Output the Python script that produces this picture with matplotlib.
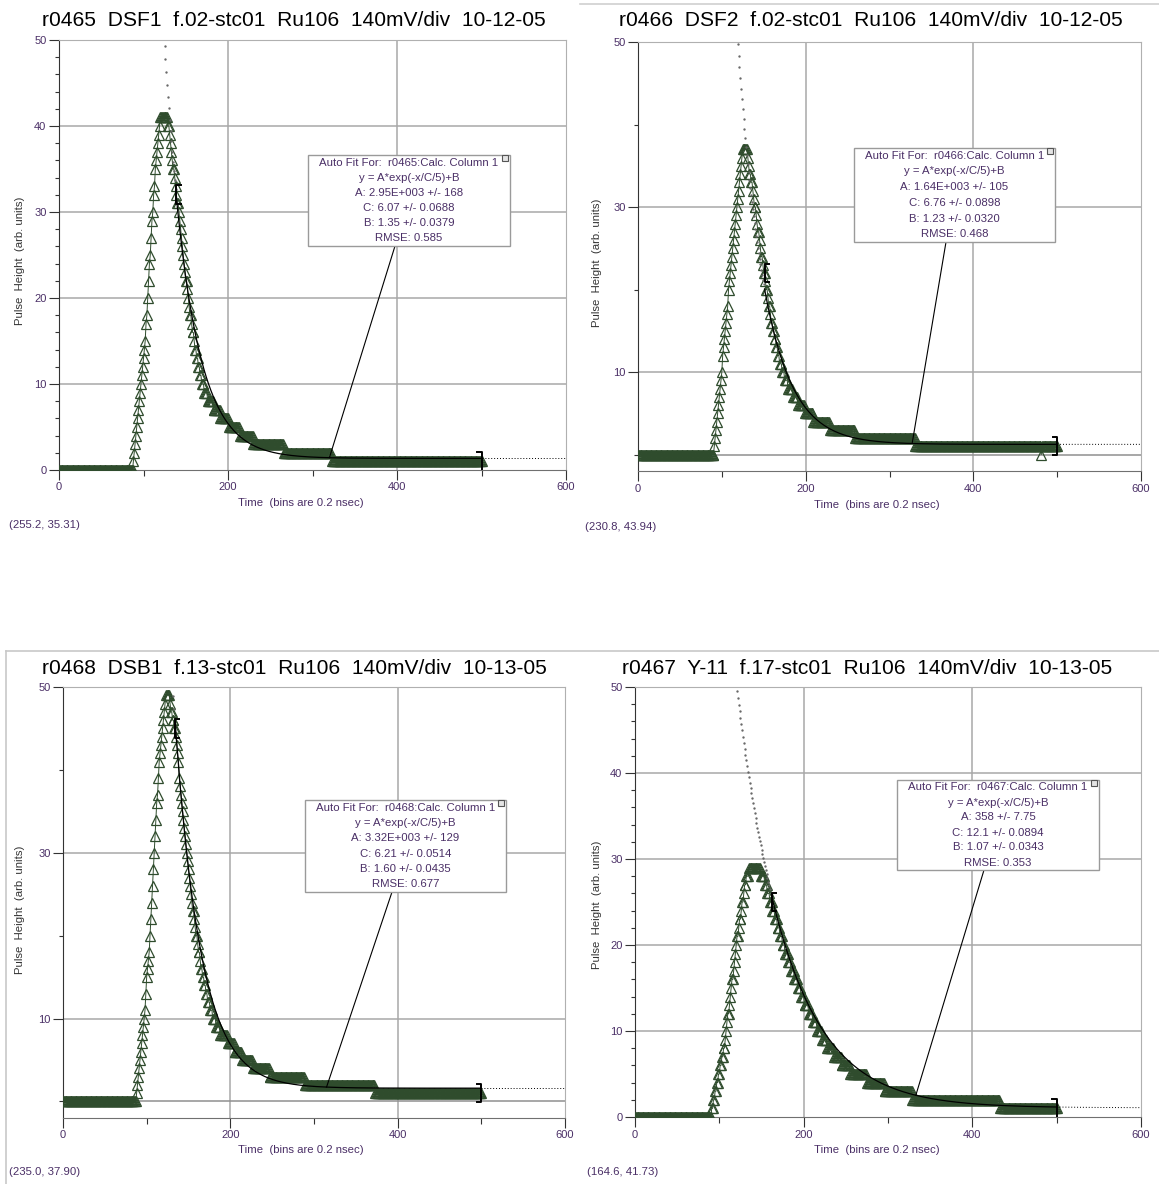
import numpy as np
import matplotlib
matplotlib.use("Agg")
import matplotlib.pyplot as plt
from matplotlib.patches import Rectangle
from matplotlib.lines import Line2D

plt.rcParams['font.family'] = ['Liberation Sans', 'DejaVu Sans']

W, H = 1159, 1184

# ---- data (one value per 0.2 ns bin) ----
titles = ["r0465  DSF1  f.02-stc01  Ru106  140mV/div  10-12-05",
          "r0466  DSF2  f.02-stc01  Ru106  140mV/div  10-12-05",
          "r0468  DSB1  f.13-stc01  Ru106  140mV/div  10-13-05",
          "r0467  Y-11  f.17-stc01  Ru106  140mV/div  10-13-05"]
runs_names = ["r0465", "r0466", "r0468", "r0467"]

base_n = [88, 91, 88, 91]   # bins at 0 before the pulse

rise1 = [1, 2, 3, 4, 5, 6, 7, 8, 9, 10, 11, 12, 13, 14, 15, 17, 18, 20, 22, 24, 25, 27,
         29, 30, 32, 33, 35, 36, 37, 38, 39, 40]
tail1 = [(41, 9), (40, 2), (39, 1), (38, 1), (37, 1), (36, 1), (35, 2), (34, 1), (33, 1),
         (32, 1), (31, 2), (30, 1), (29, 1), (28, 1), (27, 1), (26, 1), (25, 1), (24, 1),
         (23, 1), (22, 2), (21, 1), (20, 1), (19, 1), (18, 2), (17, 1), (16, 2), (15, 1),
         (14, 2), (13, 2), (12, 2), (11, 2), (10, 3), (9, 4), (8, 7), (7, 8), (6, 10),
         (5, 13), (4, 16), (3, 36), (2, 57), (1, 178)]

rise2 = [1, 2, 3, 4, 5, 6, 7, 8, 9, 10, 12, 13, 14, 15, 16, 17, 18, 20, 21, 22, 23, 24,
         25, 26, 27, 28, 29, 30, 31, 32, 33, 34, 35, 36]
tail2 = [(37, 6), (36, 1), (35, 1), (34, 2), (33, 2), (32, 1), (31, 1), (30, 2), (29, 1),
         (28, 1), (27, 2), (26, 1), (25, 1), (24, 2), (23, 1), (22, 2), (21, 1), (20, 2),
         (19, 1), (18, 2), (17, 1), (16, 2), (15, 2), (14, 2), (13, 2), (12, 2), (11, 3),
         (10, 3), (9, 4), (8, 6), (7, 6), (6, 8), (5, 10), (4, 20), (3, 30), (2, 72),
         (1, 150), (0, 1), (1, 19)]

rise3 = [1, 2, 3, 4, 5, 6, 7, 8, 9, 10, 11, 13, 15, 16, 17, 18, 20, 22, 24, 26, 28, 30,
         32, 34, 36, 37, 39, 41, 42, 43, 44, 45, 46, 47, 48]
tail3 = [(49, 5), (48, 1), (47, 2), (46, 2), (45, 2), (44, 1), (43, 1), (42, 1), (41, 1),
         (39, 1), (38, 1), (37, 1), (36, 1), (35, 1), (34, 1), (33, 1), (32, 1), (31, 1),
         (30, 1), (29, 1), (28, 1), (27, 1), (26, 1), (25, 1), (24, 1), (23, 2), (22, 1),
         (21, 1), (20, 2), (19, 1), (18, 2), (17, 1), (16, 2), (15, 2), (14, 2), (13, 2),
         (12, 3), (11, 3), (10, 4), (9, 5), (8, 9), (7, 8), (6, 9), (5, 13), (4, 20),
         (3, 42), (2, 84), (1, 128)]

rise4 = [1, 1, 2, 2, 3, 3, 4, 4, 5, 5, 6, 6, 7, 7, 8, 8, 9, 10, 11, 12, 12, 13, 14, 15,
         16, 16, 17, 18, 19, 20, 21, 21, 22, 23, 23, 24, 25, 25, 26, 27, 27, 28, 28, 28]
tail4 = [(29, 14), (28, 5), (27, 3), (26, 3), (25, 3), (24, 3), (23, 3), (22, 3), (21, 3),
         (20, 3), (19, 4), (18, 3), (17, 4), (16, 4), (15, 4), (14, 4), (13, 5), (12, 5),
         (11, 5), (10, 6), (9, 6), (8, 8), (7, 9), (6, 10), (5, 20), (4, 21), (3, 33),
         (2, 104), (1, 68)]

rises = [rise1, rise2, rise3, rise4]
tails = [tail1, tail2, tail3, tail4]

# auto fit y = A*exp(-x/C/5)+B
fit_A = [2950, 1640, 3320, 358]
fit_C = [6.07, 6.76, 6.21, 12.1]
fit_B = [1.35, 1.23, 1.60, 1.07]
fit_start = [139, 151, 134, 162]
fit_end = 500
fit_lines = [
    ["A: 2.95E+003 +/- 168", "C: 6.07 +/- 0.0688", "B: 1.35 +/- 0.0379", "RMSE: 0.585"],
    ["A: 1.64E+003 +/- 105", "C: 6.76 +/- 0.0898", "B: 1.23 +/- 0.0320", "RMSE: 0.468"],
    ["A: 3.32E+003 +/- 129", "C: 6.21 +/- 0.0514", "B: 1.60 +/- 0.0435", "RMSE: 0.677"],
    ["A: 358 +/- 7.75", "C: 12.1 +/- 0.0894", "B: 1.07 +/- 0.0343", "RMSE: 0.353"],
]
readouts = ["(255.2, 35.31)", "(230.8, 43.94)", "(235.0, 37.90)", "(164.6, 41.73)"]

# ---- layout (pixels) ----
frames = [(59, 40, 566, 470), (638, 42, 1141, 471), (63, 687, 565, 1118), (635, 687, 1141, 1117)]
ylows = [0, -2, -2, 0]
title_pos = [(294, 21), (871, 21), (294, 668), (867, 668)]
ylab_pos = [(20, 261), (597, 263), (20, 910), (597, 905)]
xlab_pos = [(301, 503), (877, 505), (301, 1150), (877, 1150)]
read_pos = [(9, 525), (585, 527), (9, 1172), (587, 1172)]
boxes = [(308, 155, 510, 246), (854, 148, 1055, 242), (305, 800, 506, 892), (897, 780, 1099, 870)]
link_px = [395, 946, 392, 984]
link_x = [320, 327, 315, 333]

green = '#2f4c2d'
purple = '#4a2f66'
gridc = '#a8a8a8'

fig = plt.figure(figsize=(W / 100, H / 100), dpi=100)


def p2d(fr, ylo, px, py):
    l, t, r, b = fr
    return (px - l) / (r - l) * 600, 50 - (py - t) / (b - t) * (50 - ylo)


def ftext(px, py, s, **kw):
    fig.text(px / W, 1 - py / H, s, **kw)


for i in range(4):
    l, t, r, b = frames[i]
    ylo = ylows[i]
    ax = fig.add_axes([l / W, 1 - b / H, (r - l) / W, (b - t) / H])
    ax.set_xlim(0, 600)
    ax.set_ylim(ylo, 50)

    y = np.concatenate([np.zeros(base_n[i]), rises[i],
                        np.repeat([v for v, n in tails[i]], [n for v, n in tails[i]])])
    x = np.arange(len(y))

    # grid
    for gx in (200, 400):
        ax.axvline(gx, color=gridc, lw=1.1, zorder=0)
    if ylo == 0:
        gys = [10, 20, 30, 40]
        ax.set_yticks([0, 10, 20, 30, 40, 50])
        ax.set_yticks(np.arange(0, 51, 2), minor=True)
    else:
        gys = [0, 10, 30]
        ax.set_yticks([10, 30, 50])
        ax.set_yticks([0, 20, 40], minor=True)
    for gy in gys:
        ax.axhline(gy, color=gridc if gy else '#909090', lw=1.1, zorder=0)

    ax.set_xticks([0, 200, 400, 600])
    ax.set_xticks([100, 300, 500], minor=True)
    ax.tick_params(which='major', length=7, width=0.8, color='#333333',
                   labelcolor=purple, labelsize=8, pad=2)
    ax.tick_params(which='minor', length=3, width=0.8, color='#333333')
    ax.tick_params(axis='x', which='minor', length=4)
    for s in ('top', 'right'):
        ax.spines[s].set_color('#b0b0b0')
    ax.spines['left'].set_color('#333333')
    ax.spines['bottom'].set_color('#707070')
    for s in ax.spines.values():
        s.set_linewidth(0.8)

    # data
    ax.plot(x, y, color=green, lw=0.7, marker='^', ms=6.8, mfc='none', mec=green,
            mew=0.9, zorder=3)

    # fit curve
    A, C, B = fit_A[i], fit_C[i], fit_B[i]
    xs = fit_start[i]
    xf = np.linspace(xs, fit_end, 400)
    ax.plot(xf, A * np.exp(-xf / C / 5) + B, color='black', lw=0.9, zorder=4)
    xl = np.arange(xs - 45, xs)
    yl = A * np.exp(-xl / C / 5) + B
    keep = yl < 50.5
    ax.plot(xl[keep], yl[keep], ls='none', marker='o', ms=0.7, color='#666666', zorder=4)
    xr = np.linspace(fit_end, 600, 100)
    ax.plot(xr, A * np.exp(-xr / C / 5) + B, color='black', lw=0.7, ls=(0, (1, 2)), zorder=4)

    # fit range brackets
    tick = 5
    ys = y[xs]
    ax.plot([xs + tick, xs, xs, xs + tick], [ys + 1.1, ys + 1.1, ys - 1.1, ys - 1.1],
            color='black', lw=1.4, zorder=5)
    ye = y[fit_end]
    ax.plot([fit_end - tick, fit_end, fit_end, fit_end - tick],
            [ye + 1.1, ye + 1.1, ye - 1.1, ye - 1.1], color='black', lw=1.4, zorder=5)

    # fit box
    bl, bt, br, bb = boxes[i]
    x0, y1 = p2d(frames[i], ylo, bl, bt)
    x1, y0 = p2d(frames[i], ylo, br, bb)
    lx, ly = p2d(frames[i], ylo, link_px[i], bb)
    cx = link_x[i]
    ax.plot([lx, cx], [ly, A * np.exp(-cx / C / 5) + B], color='black', lw=0.8, zorder=5)
    ax.add_patch(Rectangle((x0, y0), x1 - x0, y1 - y0, facecolor='white',
                           edgecolor='#9a9a9a', lw=1.0, zorder=6))
    sx0, sy1 = p2d(frames[i], ylo, br - 8, bt)
    sx1, sy0 = p2d(frames[i], ylo, br - 2, bt + 6)
    ax.add_patch(Rectangle((sx0, sy0), sx1 - sx0, sy1 - sy0, facecolor='#e4e4e4',
                           edgecolor='#555555', lw=0.8, zorder=7))
    lines = ["Auto Fit For:  " + runs_names[i] + ":Calc. Column 1",
             "y = A*exp(-x/C/5)+B"] + fit_lines[i]
    step = (y1 - y0) / 6
    for k, s in enumerate(lines):
        ax.text((x0 + x1) / 2, y1 - (k + 0.5) * step, s, ha='center', va='center',
                fontsize=8.2, color=purple, zorder=8)

    # labels
    ftext(*title_pos[i], titles[i], ha='center', va='center', fontsize=15.1, color='black')
    ftext(*ylab_pos[i], "Pulse  Height  (arb. units)", ha='center', va='center',
          rotation=90, fontsize=8.2, color='#333333')
    ftext(*xlab_pos[i], "Time  (bins are 0.2 nsec)", ha='center', va='center',
          fontsize=8.2, color=purple)
    ftext(*read_pos[i], readouts[i], ha='left', va='center', fontsize=8.2, color=purple)

# window borders of the pasted screenshots
fig.add_artist(Line2D([6 / W, 1], [1 - 651 / H] * 2, color='#c8c8c8', lw=1.2))
fig.add_artist(Line2D([6 / W, 6 / W], [0, 1 - 651 / H], color='#c8c8c8', lw=1.2))
fig.add_artist(Line2D([580 / W, 1], [1 - 4 / H] * 2, color='#d0d0d0', lw=1.2))

fig.savefig("out.png", dpi=100)
